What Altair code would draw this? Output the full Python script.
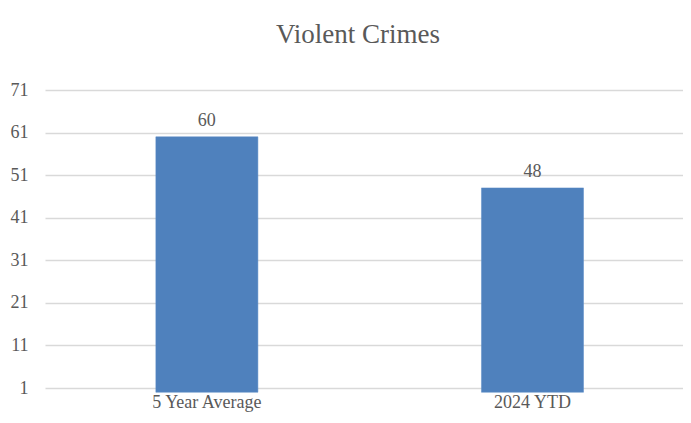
import altair as alt
import pandas as pd

title_text = ["Violent Crimes"]
categories = ["5 Year Average", "2024 YTD"]
values = [60, 48]
y_ticks = [1, 11, 21, 31, 41, 51, 61, 71]

df = pd.DataFrame({"category": categories, "value": values})
df_title = pd.DataFrame({"title": title_text})

FONT = "Liberation Serif"
TEXT = "#595959"
GRID = "#d9d9d9"

base = alt.Chart(df).encode(
    x=alt.X(
        "category:N",
        sort=categories,
        title=None,
        scale=alt.Scale(paddingInner=0.6866, paddingOuter=0.323, align=0.527),
        axis=alt.Axis(labelAngle=0, ticks=False, domain=False, labelPadding=5,
                      labelFont=FONT, labelFontSize=18, labelColor=TEXT),
    ),
    y=alt.Y(
        "value:Q",
        title=None,
        scale=alt.Scale(domain=[1, 71], nice=False, zero=False),
        axis=alt.Axis(values=y_ticks, ticks=False, domain=False, labelPadding=17,
                      labelFont=FONT, labelFontSize=18, labelColor=TEXT,
                      gridColor=GRID, gridWidth=1.3),
    ),
)

bars = base.mark_bar(color="#4f81bd", stroke="#5b8bc6", strokeWidth=0.5)
labels = base.mark_text(dy=-11, baseline="alphabetic", font=FONT, fontSize=18, color=TEXT).encode(
    text="value:Q"
)

title = alt.Chart(df_title).mark_text(
    font=FONT, fontSize=27, color=TEXT, align="center", baseline="alphabetic"
).encode(x=alt.value(313), y=alt.value(-47), text="title:N")

chart = (
    alt.layer(bars, labels, title)
    .properties(
        width=638,
        height=298,
        padding={"left": 37, "top": 82, "right": 0, "bottom": 27},
        autosize=alt.AutoSizeParams(type="none"),
    )
    .configure_view(stroke=None)
)

chart.save("out.html", embed_options={"renderer": "svg", "actions": False})
